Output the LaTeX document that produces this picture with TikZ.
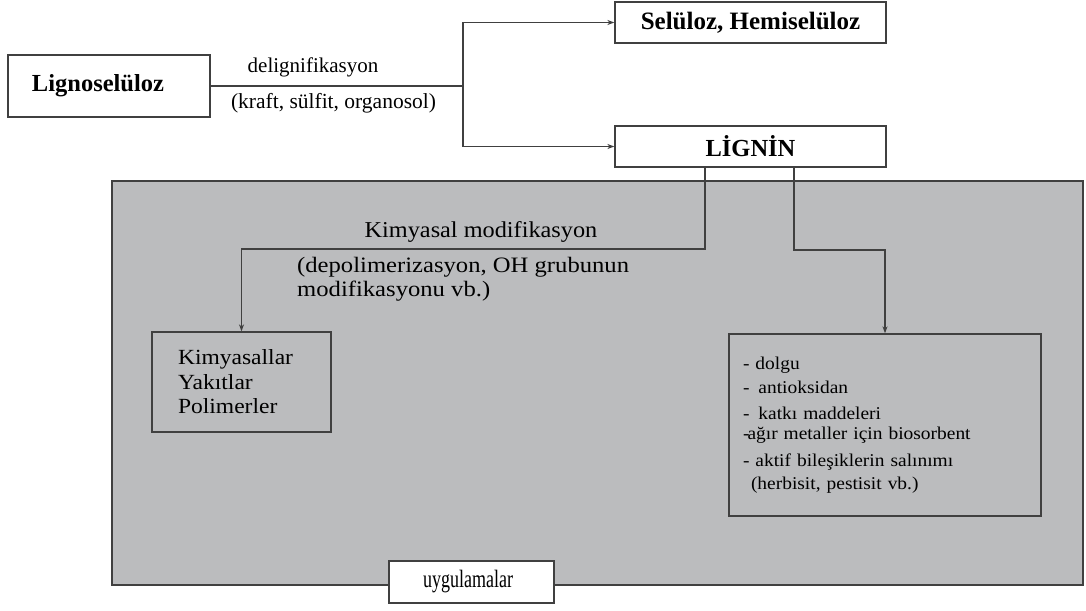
\documentclass[tikz,border=0pt]{standalone}
\usepackage{fontspec}
\setmainfont{Liberation Serif}
\newfontfamily\fwide{Liberation Serif}[FakeStretch=1.07]
\newfontfamily\fdep{Liberation Serif}[FakeStretch=1.12]
\newfontfamily\fkim{Liberation Serif}[FakeStretch=1.09]
\newfontfamily\fapp{Liberation Serif}[FakeStretch=1.08]
\newfontfamily\fuyg{Liberation Serif}[FakeStretch=0.72]
\usetikzlibrary{arrows.meta}
\definecolor{areagray}{HTML}{BBBCBE}
\definecolor{linegray}{HTML}{404040}
\begin{document}
\begin{tikzpicture}[x=1pt,y=-1pt,
  box/.style={draw=linegray, line width=1.3pt, fill=white, inner sep=0pt},
  conn/.style={draw=linegray, line width=1.2pt},
  arr/.style={conn, -{Stealth[length=7pt,width=5pt]}},
  lbl/.style={inner sep=0pt},
]
\useasboundingbox (0,0) rectangle (1086,610);
% shaded application area
\node[draw=linegray, line width=1.3pt, fill=areagray, minimum width=971pt, minimum height=404pt, inner sep=0pt] (area) at (597.5,383) {};
% top boxes
\node[box, minimum width=202pt, minimum height=62pt, font=\fontsize{24.5}{28}\selectfont\bfseries] (ligno) at (109,86) {\hspace*{-22pt}Lignoselüloz};
\node[box, minimum width=271pt, minimum height=41pt, font=\fontsize{25}{28}\selectfont\bfseries] (sel) at (750.5,22.5) {Selüloz, Hemiselüloz};
\node[box, minimum width=271pt, minimum height=41pt, font=\fontsize{24.5}{28}\selectfont\bfseries] (lignin) at (750.5,146.5) {LİGNİN};
% delignification split
\coordinate (split) at (463,86);
\draw[conn] (ligno.east) -- (split);
\draw[arr] (split) |- (sel.west);
\draw[arr] (split) |- (lignin.west);
\node[lbl, anchor=base, font=\fontsize{21}{24}\selectfont] (delig) at (313,73) {delignifikasyon};
\node[lbl, anchor=base, font=\fontsize{21.5}{24}\selectfont] (kraft) at (333.5,108) {(kraft, sülfit, organosol)};
% lower boxes
\node[box, fill=areagray, minimum width=179pt, minimum height=100pt, text width=127pt, inner xsep=26pt, align=left, font=\fkim\fontsize{21.6}{24.5}\selectfont] (kim) at (241.5,382) {Kimyasallar\\Yakıtlar\\Polimerler};
\node[box, fill=areagray, minimum width=312pt, minimum height=182pt, text width=284pt, inner xsep=14pt, align=left, font=\fapp\fontsize{18}{23.5}\selectfont] (app) at (885,425) {- dolgu\\- \,antioksidan\\[3pt]- \,katkı maddeleri\\[-4pt]-\kern-2pt ağır metaller için biosorbent\\[4pt]- aktif bileşiklerin salınımı\\[-1pt]\hspace*{8pt}(herbisit, pestisit vb.)};
% connectors from lignin
\coordinate (kbend) at (705,249);
\coordinate (abend) at (794,250);
\draw[arr] (lignin.south -| kbend) -- (kbend) -| (kim.north);
\draw[arr] (lignin.south -| abend) -- (abend) -| (app.north);
\node[lbl, anchor=base, font=\fwide\fontsize{22.7}{25}\selectfont] (kmod) at (481,237) {Kimyasal modifikasyon};
\node[lbl, anchor=north west, align=left, font=\fdep\fontsize{22}{23.5}\selectfont] (depol) at (297,257.5) {(depolimerizasyon, OH grubunun\\modifikasyonu vb.)};
% applications label
\node[box, minimum width=165pt, minimum height=42pt, font=\fuyg\fontsize{25}{28}\selectfont] (uyg) at (471.5,582) {\hspace*{-7pt}uygulamalar};
\end{tikzpicture}
\end{document}
